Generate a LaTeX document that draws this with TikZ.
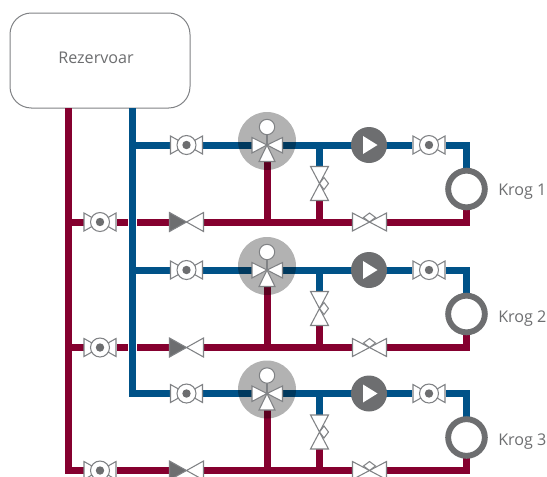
\documentclass[tikz,border=0pt]{standalone}
\usepackage{fontspec}
\setmainfont{Open Sans}
\definecolor{pblue}{HTML}{005288}
\definecolor{pred}{HTML}{85002F}
\definecolor{dgray}{HTML}{6D6E70}
\definecolor{lgray}{HTML}{808285}
\tikzset{
  pipeblue/.style={draw=pblue,line width=5.25pt,line cap=butt,line join=miter},
  pipered/.style={draw=pred,line width=5.25pt,line cap=butt,line join=miter},
  vline/.style={draw=lgray,line width=.8pt,fill=white,line join=miter},
  vfill/.style={draw=lgray,line width=.8pt,fill=dgray,line join=miter},
  lab/.style={text=dgray,font=\fontsize{12.1pt}{14pt}\selectfont,inner sep=0pt},
  tank/.style={draw=lgray,line width=.75pt,fill=white,rounded corners=16pt,minimum width=135pt,minimum height=71.25pt,inner sep=0pt},
  pumpnode/.style={circle,fill=dgray,minimum size=27pt,inner sep=0pt},
  ringnode/.style={circle,draw=dgray,line width=4.4pt,fill=white,minimum size=27.5pt,inner sep=0pt},
  mixdisc/.style={circle,fill=black,fill opacity=.3,minimum size=43.5pt,inner sep=0pt},
  pics/ballvalve/.style={code={
    \draw[vline] (0,0) -- (-16,-9) -- (-16,9) -- cycle;
    \draw[vline] (0,0) -- (16,-9) -- (16,9) -- cycle;
    \draw[vline] (0,0) circle (9.5);
    \fill[dgray] (0,0) circle (4.2);
  }},
  pics/checkvalve/.style={code={
    \draw[vline] (0,0) -- (17,-9.5) -- (17,9.5) -- cycle;
    \draw[vfill] (0,0) -- (-17,-9.5) -- (-17,9.5) -- cycle;
  }},
  pics/tvalve/.style={code={
    \draw[vline] (0,0) -- (-17,-9) -- (-17,9) -- cycle;
    \draw[vline] (0,0) -- (17,-9) -- (17,9) -- cycle;
    \draw[vline] (0,0) -- (-6,-4.5) -- (0,-9) -- (6,-4.5) -- cycle;
  }},
  pics/uprightvalve/.style={code={
    \draw[vline] (0,0) -- (-9,-17) -- (9,-17) -- cycle;
    \draw[vline] (0,0) -- (-9,17) -- (9,17) -- cycle;
    \draw[vline] (0,0) -- (4.5,-6) -- (9,0) -- (4.5,6) -- cycle;
  }},
  pics/mixer/.style={code={
    \draw[vline] (0,0) -- (0,-12);
    \draw[vline] (0,-18) circle (7.7);
    \draw[vline] (0,0) -- (-15,-7.5) -- (-15,8) -- cycle;
    \draw[vline] (0,0) -- (15.5,-7.5) -- (15.5,8) -- cycle;
    \draw[vline] (0,0) -- (-8,16.5) -- (8,16.5) -- cycle;
  }},
}
\begin{document}
\begin{tikzpicture}[x=.75pt,y=-.75pt]
\useasboundingbox (0,0) rectangle (547,476);
\clip (0,0) rectangle (547,476);
\node[tank] (rez) at (100,60.5) {};
\node[lab] (reztext) at (96,58) {Rezervoar};
\coordinate (redtop) at (68.5,108);
\coordinate (bluetop) at (132.5,108);
\coordinate (blueend) at (132.5,393.5);
\coordinate (redend) at (68.5,470.5);
\draw[pipered] (redtop) -- (redend) -- (84,470.5);
\draw[pipeblue] (bluetop) -- (blueend) -- (170,393.5);
\foreach \n/\b/\r/\ty/\t in {1/145/222/191.5/Krog 1,2/270/347.5/318.5/Krog 2,3/393.5/470.5/441.5/Krog 3}{
  \ifnum\n=3\else\draw[pipeblue] (132.5,\b) -- (170,\b);\fi
  \draw[pipeblue] (203,\b) -- (252,\b);
  \draw[pipeblue] (283,\b) -- (412,\b);
  \draw[pipeblue] (446,\b) -- (466.5,\b) -- (466.5,\b+25);
  \ifnum\n=3
    \draw[pipered] (117,\r) -- (170,\r);
  \else
    \draw[pipered] (68.5,\r) -- (84,\r);
    \draw[pipered] (117,\r) -- (128,\r);
    \draw[pipered] (137,\r) -- (170,\r);
  \fi
  \draw[pipered] (203,\r) -- (352,\r);
  \draw[pipered] (386,\r) -- (466.5,\r) -- (466.5,\r-15);
  \draw[pipered] (267,\b+16.5) -- (267,\r);
  \draw[pipeblue] (319.5,\b) -- (319.5,\b+22);
  \draw[pipered] (319.5,\r) -- (319.5,\r-22);
  \node[mixdisc] (disc\n) at (267,\b-4) {};
  \pic at (267,\b) {mixer};
  \pic at (186.5,\b) {ballvalve};
  \node[pumpnode] (pump\n) at (369,\b) {};
  \fill[white] (363,\b-9) -- (377.5,\b) -- (363,\b+9) -- cycle;
  \pic at (429,\b) {ballvalve};
  \node[ringnode] (ring\n) at (466.5,\b+44) {};
  \node[lab,anchor=west] (lab\n) at (498,\ty) {\t};
  \pic at (319.5,\b+38.5) {uprightvalve};
  \pic at (369.5,\r) {tvalve};
  \pic at (186.5,\r) {checkvalve};
  \pic at (100,\r) {ballvalve};
}
\end{tikzpicture}
\end{document}
